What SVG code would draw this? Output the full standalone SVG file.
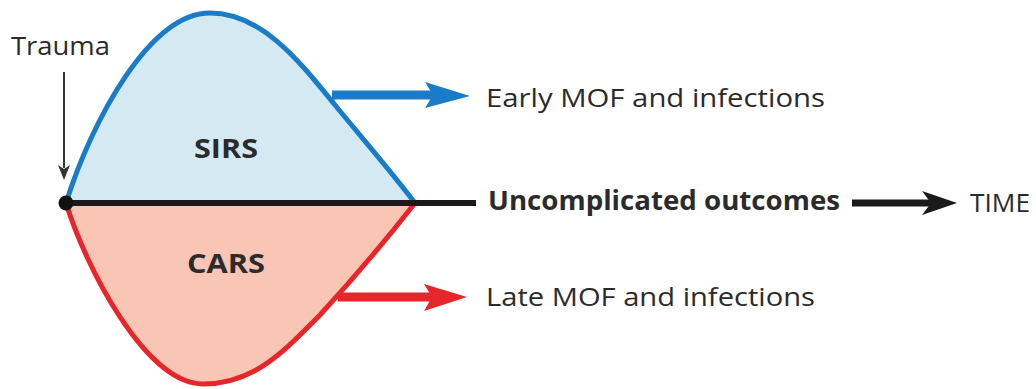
<svg xmlns="http://www.w3.org/2000/svg" width="1036" height="389" viewBox="0 0 1036 389">
<style>
text{font-family:"Open Sans","Lato",sans-serif;fill:#2b2b2b}
.lbl{font-size:26px}
.b{font-weight:bold}
</style>
<rect width="1036" height="389" fill="#fff"/>
<g id="sirs">
<path d="M66,203 C92,120 150,13 210,13 C262,13 300,62 335,105 C362,138 390,170 415,203 Z" fill="#d5e9f3" stroke="#1a7cc8" stroke-width="5" stroke-linejoin="round"/>
<text x="194" y="158" class="lbl b" textLength="64" lengthAdjust="spacingAndGlyphs">SIRS</text>
</g>
<g id="cars">
<path d="M66,203 C85,265 145,384 203,384 C255,384 285,350 320,315 C352,280 390,235 415,203 Z" fill="#f9c5b5" stroke="#e6262b" stroke-width="5" stroke-linejoin="round"/>
<text x="187" y="273" class="lbl b" textLength="78" lengthAdjust="spacingAndGlyphs">CARS</text>
</g>
<g id="connectors">
<line x1="66" y1="203" x2="476" y2="203" stroke="#1a1a1a" stroke-width="6"/>
<circle cx="66" cy="203" r="7.5" fill="#111"/>
<line x1="64" y1="72" x2="64" y2="168" stroke="#333" stroke-width="2"/>
<path d="M58,165 L64,180 L70,165 L64,169 Z" fill="#333"/>
<line x1="332" y1="95" x2="440" y2="95" stroke="#1a7cc8" stroke-width="9"/>
<path d="M425,82 L470,96 L425,108 L433,95 Z" fill="#1a7cc8"/>
<line x1="338" y1="297" x2="440" y2="297" stroke="#e6262b" stroke-width="9"/>
<path d="M424,284 L467,297 L424,311 L432,297 Z" fill="#e6262b"/>
<line x1="852" y1="203" x2="935" y2="203" stroke="#1a1a1a" stroke-width="7"/>
<path d="M922,191 L957,203 L922,215 L931,203 Z" fill="#1a1a1a"/>
</g>
<g id="trauma"><text x="11" y="55" class="lbl" font-size="25" textLength="99" lengthAdjust="spacingAndGlyphs">Trauma</text></g>
<g id="early"><text x="486" y="107" class="lbl" textLength="339" lengthAdjust="spacingAndGlyphs">Early MOF and infections</text></g>
<g id="late"><text x="486" y="306" class="lbl" textLength="329" lengthAdjust="spacingAndGlyphs">Late MOF and infections</text></g>
<g id="uncomplicated"><text x="488" y="210" class="lbl b" textLength="352" lengthAdjust="spacingAndGlyphs">Uncomplicated outcomes</text></g>
<g id="time"><text x="970" y="212" class="lbl" textLength="60" lengthAdjust="spacingAndGlyphs">TIME</text></g>
</svg>
